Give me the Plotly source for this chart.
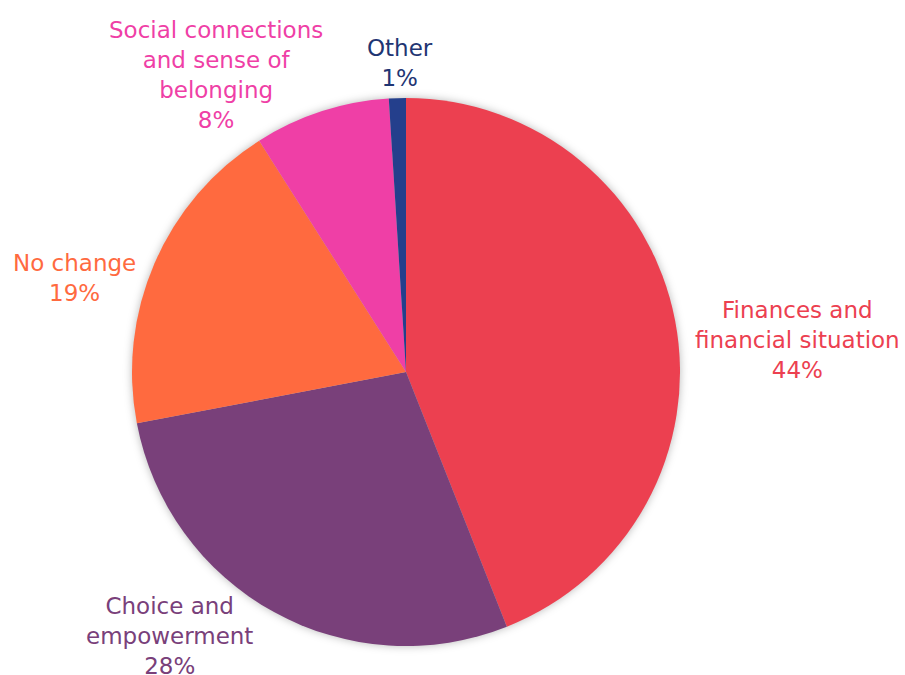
import math
import plotly.graph_objects as go

# Share of responses by main area of change
categories = [
    "Finances and<br>financial situation",
    "Choice and<br>empowerment",
    "No change",
    "Social connections<br>and sense of<br>belonging",
    "Other",
]
shares = [44, 28, 19, 8, 1]
slice_colors = ["#EC4050", "#79407A", "#FF6A3F", "#EF3FA6", "#243F8C"]
label_colors = ["#EC4050", "#79407A", "#FF6A3F", "#EF3FA6", "#1F3573"]

# label nudges (px) away from each slice's outer edge midpoint: (right, down)
label_nudge = [(122, 19), (-104, 24), (-80, 15), (-105, -36), (3, -35)]

W, H = 905, 675
cx, cy, r = 406, 372, 274
FONT = "DejaVu Sans, Verdana, sans-serif"

fig = go.Figure(
    go.Pie(
        labels=[c.replace("<br>", " ") for c in categories],
        values=shares,
        sort=False,
        direction="clockwise",
        rotation=0,
        marker=dict(colors=slice_colors, line=dict(width=0)),
        textinfo="none",
        domain=dict(
            x=[(cx - r) / W, (cx + r) / W],
            y=[(H - cy - r) / H, (H - cy + r) / H],
        ),
        showlegend=False,
        hoverinfo="label+percent",
    )
)

# Outside labels anchored at each slice's mid-angle on the rim
total = sum(shares)
cum = 0
for name, val, col, (nx, ny) in zip(categories, shares, label_colors, label_nudge):
    mid = (cum + val / 2) / total * 2 * math.pi
    cum += val
    px = cx + r * math.sin(mid)
    py = cy - r * math.cos(mid)
    pct = round(val / total * 100)
    fig.add_annotation(
        x=px / W,
        y=1 - py / H,
        xref="paper",
        yref="paper",
        text=f"{name}<br>{pct}%",
        showarrow=False,
        xanchor="center",
        yanchor="middle",
        align="center",
        xshift=nx,
        yshift=-ny,
        font=dict(family=FONT, size=23, color=col),
    )

fig.update_layout(
    width=W,
    height=H,
    margin=dict(l=0, r=0, t=0, b=0),
    paper_bgcolor="white",
    plot_bgcolor="white",
)

# soft shadow around the pie
shadow_js = """
var pl = document.querySelectorAll('.pielayer');
pl.forEach(function(g){ g.style.filter = 'drop-shadow(0px 0px 4px rgba(0,0,0,0.28))'; });
"""

fig.write_html("out.html", post_script=shadow_js)
